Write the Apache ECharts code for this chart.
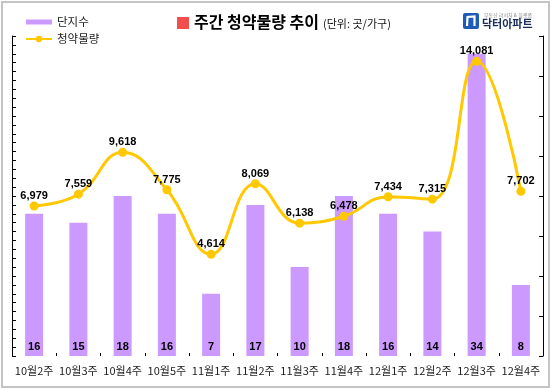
<!DOCTYPE html>
<html><head><meta charset="utf-8">
<script src="https://cdn.jsdelivr.net/npm/echarts@6/dist/echarts.min.js"></script>
<style>html,body{margin:0;padding:0;background:#fff}#c{width:554px;height:390px}</style>
</head><body><div id="c"></div>
<script>
const categories = ['10월2주','10월3주','10월4주','10월5주','11월1주','11월2주','11월3주','11월4주','12월1주','12월2주','12월3주','12월4주'];
const complexCounts = [16,15,18,16,7,17,10,18,16,14,34,8];
const supplyUnits = [6979,7559,9618,7775,4614,8069,6138,6478,7434,7315,14081,7702];
const seriesNames = ['단지수','청약물량'];
const titleMain = '주간 청약물량 추이';
const titleUnit = '(단위: 곳/가구)';

const KR = '"Noto Sans CJK KR", "Noto Sans", sans-serif';
const fmt = v => String(v).replace(/\B(?=(\d{3})+(?!\d))/g, ',');
const chart = echarts.init(document.getElementById('c'), null, {renderer:'canvas'});
chart.setOption({
  backgroundColor:'#fff',
  animation:false,
  legend:{
    orient:'vertical', left:20, top:10, itemWidth:26, itemHeight:8, itemGap:3,
    textStyle:{fontFamily:KR, fontSize:11.5, color:'#222', lineHeight:14},
    data:[
      {name:seriesNames[0], icon:'path://M0,0h26v5h-26z'},
      {name:seriesNames[1]}
    ]
  },
  grid:{left:12, right:11, top:36, bottom:34, containLabel:false},
  xAxis:{
    type:'category', data:categories, boundaryGap:true,
    axisLine:{show:false},
    axisTick:{show:true, inside:true, length:3, lineStyle:{color:'#000'}},
    axisLabel:{fontFamily:KR, fontSize:11, color:'#222', margin:9, interval:0}
  },
  yAxis:[
    {type:'value', min:0, max:36, interval:1, position:'left',
     axisLine:{show:true, lineStyle:{color:'#000', width:1}},
     axisTick:{show:true, inside:true, length:4, lineStyle:{color:'#000'}},
     axisLabel:{show:false}, splitLine:{show:false}},
    {type:'value', min:-380, max:15320, show:false, splitLine:{show:false}},
    {type:'value', min:0, max:8, interval:1, position:'right',
     axisLine:{show:true, lineStyle:{color:'#000', width:1}},
     axisTick:{show:true, inside:true, length:4, lineStyle:{color:'#000'}},
     axisLabel:{show:false}, splitLine:{show:false}}
  ],
  series:[
    {name:seriesNames[0], type:'bar', yAxisIndex:0, data:complexCounts, barWidth:18,
     itemStyle:{color:'#CC99FF'},
     label:{show:true, position:'insideBottom', distance:4, color:'#000',
            fontFamily:'Arial, "Liberation Sans", sans-serif', fontWeight:'bold', fontSize:11}},
    {name:seriesNames[1], type:'line', yAxisIndex:1, data:supplyUnits, smooth:0.45, z:5,
     symbol:'circle', symbolSize:9,
     lineStyle:{color:'#FFC800', width:3},
     itemStyle:{color:'#FFC800'},
     label:{show:true, position:'top', distance:0, color:'#000', formatter:p=>fmt(p.value),
            fontFamily:'Arial, "Liberation Sans", sans-serif', fontWeight:'bold', fontSize:11}}
  ],
  graphic:[
    {type:'rect', shape:{x:2, y:2, width:547, height:385}, style:{fill:'none', stroke:'#c4c4c4', lineWidth:2}, silent:true, z:-1},
    {type:'rect', shape:{x:177, y:17, width:12, height:12}, style:{fill:'#F24E4E'}},
    {type:'text', x:194, y:22, style:{text:titleMain, font:'bold 16px '+KR, fill:'#000', textVerticalAlign:'middle'}},
    {type:'text', x:323, y:24, style:{text:titleUnit, font:'11px '+KR, fill:'#111', textVerticalAlign:'middle'}},
    {type:'rect', shape:{x:463, y:13, width:16, height:16, r:2}, style:{fill:'#1E5BB5'}},
    {type:'polyline', shape:{points:[[467,26],[467.5,17],[474.5,16.5],[474.5,26]]}, style:{stroke:'#fff', lineWidth:2.2, fill:'none'}},
    {type:'text', x:484, y:15, style:{text:'부동산 리서치 & 플랫폼', font:'5px '+KR, fill:'#888', textVerticalAlign:'middle'}},
    {type:'text', x:482, y:24, style:{text:'닥터아파트', font:'bold 11px '+KR, fill:'#1b2d5c', textVerticalAlign:'middle'}}
  ]
});
</script></body></html>
